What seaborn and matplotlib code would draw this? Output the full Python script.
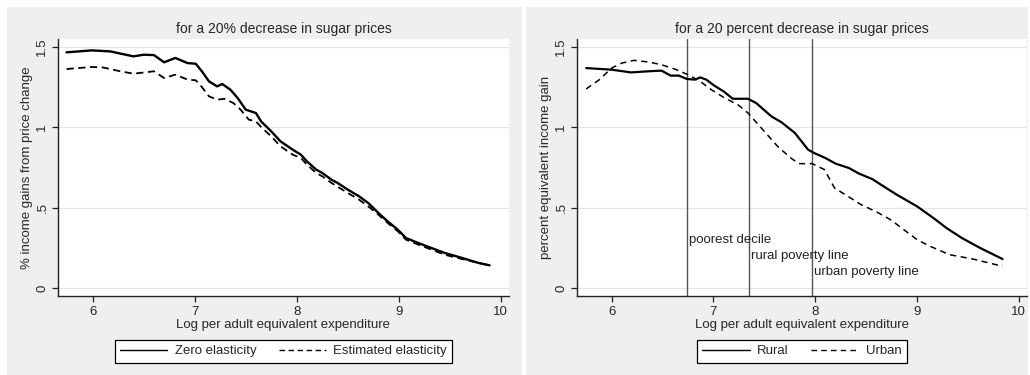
import numpy as np
import pandas as pd
import matplotlib
matplotlib.use("Agg")
import matplotlib.pyplot as plt
from matplotlib.patches import Rectangle
import seaborn as sns

sns.set_style("white")
plt.rcParams['font.family'] = ['Liberation Sans', 'DejaVu Sans']

# ---- Left panel data ----
zero_x = [5.744, 5.99, 6.17, 6.40, 6.50, 6.60, 6.70, 6.81, 6.93, 7.01, 7.07, 7.14, 7.22, 7.27,
          7.35, 7.42, 7.50, 7.60, 7.65, 7.75, 7.84, 7.96, 8.04, 8.10, 8.19, 8.25, 8.34, 8.40,
          8.50, 8.61, 8.70, 8.80, 8.89, 8.99, 9.07, 9.19, 9.32, 9.45, 9.62, 9.78, 9.89]
zero_y = [1.467, 1.479, 1.473, 1.442, 1.452, 1.450, 1.405, 1.432, 1.400, 1.396, 1.349, 1.286,
          1.255, 1.270, 1.234, 1.183, 1.110, 1.089, 1.037, 0.975, 0.913, 0.861, 0.830, 0.788,
          0.737, 0.716, 0.674, 0.654, 0.612, 0.571, 0.529, 0.467, 0.415, 0.363, 0.311, 0.280,
          0.249, 0.218, 0.187, 0.156, 0.141]
est_x = [5.744, 5.99, 6.10, 6.27, 6.40, 6.60, 6.70, 6.81, 6.93, 7.01, 7.07, 7.14, 7.22, 7.29,
         7.38, 7.45, 7.53, 7.60, 7.66, 7.75, 7.84, 7.96, 8.04, 8.10, 8.19, 8.25, 8.34, 8.50,
         8.61, 8.70, 8.80, 8.89, 8.99, 9.07, 9.19, 9.32, 9.45, 9.62, 9.78, 9.89]
est_y = [1.363, 1.376, 1.373, 1.349, 1.334, 1.349, 1.307, 1.328, 1.297, 1.293, 1.251, 1.193,
         1.172, 1.178, 1.151, 1.110, 1.048, 1.037, 0.996, 0.944, 0.882, 0.830, 0.809, 0.768,
         0.716, 0.695, 0.654, 0.591, 0.550, 0.508, 0.456, 0.405, 0.353, 0.301, 0.270, 0.239,
         0.207, 0.180, 0.156, 0.141]

# ---- Right panel data ----
rural_x = [5.75, 6.00, 6.19, 6.36, 6.49, 6.58, 6.66, 6.74, 6.82, 6.87, 6.93, 7.01, 7.10, 7.19,
           7.34, 7.42, 7.57, 7.67, 7.80, 7.93, 7.99, 8.10, 8.20, 8.33, 8.43, 8.56, 8.67, 8.80,
           9.00, 9.16, 9.29, 9.44, 9.62, 9.84]
rural_y = [1.369, 1.359, 1.342, 1.349, 1.353, 1.322, 1.322, 1.301, 1.297, 1.311, 1.297, 1.259,
           1.224, 1.178, 1.178, 1.151, 1.068, 1.031, 0.965, 0.861, 0.840, 0.809, 0.774, 0.747,
           0.712, 0.678, 0.633, 0.581, 0.508, 0.436, 0.373, 0.311, 0.249, 0.180]
urban_x = [5.75, 5.88, 6.00, 6.10, 6.22, 6.36, 6.49, 6.62, 6.75, 6.87, 6.98, 7.11, 7.24, 7.34,
           7.47, 7.63, 7.76, 7.84, 7.97, 8.09, 8.19, 8.32, 8.45, 8.61, 8.74, 8.87, 9.00, 9.13,
           9.32, 9.55, 9.84]
urban_y = [1.239, 1.297, 1.369, 1.400, 1.417, 1.407, 1.390, 1.363, 1.328, 1.286, 1.234, 1.183,
           1.141, 1.089, 0.996, 0.882, 0.809, 0.774, 0.774, 0.737, 0.622, 0.571, 0.519, 0.471,
           0.425, 0.363, 0.301, 0.259, 0.207, 0.180, 0.135]

vlines_x = [6.74, 7.35, 7.97]
vlines_labels = ["poorest decile", "rural poverty line", "urban poverty line"]
vlines_text_y = [0.30, 0.20, 0.10]

yticks = [0, 0.5, 1, 1.5]
ytick_labels = ["0", ".5", "1", "1.5"]
xticks = [6, 7, 8, 9, 10]

W, H = 1030, 375
fig = plt.figure(figsize=(W / 100, H / 100), dpi=100)
fig.patch.set_facecolor("white")
BG = "#efefef"
fig.patches.append(Rectangle((7 / W, 0), (522 - 7) / W, (375 - 7) / H,
                             transform=fig.transFigure, facecolor=BG, edgecolor="none", zorder=-5))
fig.patches.append(Rectangle((526 / W, 0), (1028 - 526) / W, (375 - 7) / H,
                             transform=fig.transFigure, facecolor=BG, edgecolor="none", zorder=-5))

FS = 9.5
bottom = 1 - 296 / H
height = (296 - 39) / H
axL = fig.add_axes([58 / W, bottom, (509 - 58) / W, height])
axR = fig.add_axes([577 / W, bottom, (1027 - 577) / W, height])

dfL1 = pd.DataFrame({"x": zero_x, "y": zero_y})
dfL2 = pd.DataFrame({"x": est_x, "y": est_y})
dfR1 = pd.DataFrame({"x": rural_x, "y": rural_y})
dfR2 = pd.DataFrame({"x": urban_x, "y": urban_y})

sns.lineplot(data=dfL1, x="x", y="y", ax=axL, color="black", lw=1.7, label="Zero elasticity")
sns.lineplot(data=dfL2, x="x", y="y", ax=axL, color="black", lw=1.3,
             label="Estimated elasticity").lines[-1].set_dashes((4, 2.5))
sns.lineplot(data=dfR1, x="x", y="y", ax=axR, color="black", lw=1.6, label="Rural")
sns.lineplot(data=dfR2, x="x", y="y", ax=axR, color="black", lw=1.1,
             label="Urban").lines[-1].set_dashes((4, 3))

for xv, lab, ty in zip(vlines_x, vlines_labels, vlines_text_y):
    axR.axvline(xv, color="#555555", lw=1.0, zorder=1)
    axR.text(xv + 0.02, ty, lab, fontsize=FS, color="#222222", ha="left", va="center")

titles = ["for a 20% decrease in sugar prices", "for a 20 percent decrease in sugar prices"]
ylabels = ["% income gains from price change", "percent equivalent income gain"]
for ax, t, yl in zip([axL, axR], titles, ylabels):
    ax.set_facecolor("white")
    ax.set_xlim(5.66, 10.08)
    ax.set_ylim(-0.05, 1.55)
    ax.set_yticks(yticks)
    ax.set_yticklabels(ytick_labels, rotation=90, va="center")
    ax.set_xticks(xticks)
    ax.grid(axis="y", color="#e6e6e6", lw=1.0)
    ax.grid(axis="x", visible=False)
    ax.set_axisbelow(True)
    for s in ["top", "right"]:
        ax.spines[s].set_visible(False)
    for s in ["left", "bottom"]:
        ax.spines[s].set_color("#222222")
        ax.spines[s].set_linewidth(1.0)
    ax.tick_params(axis="both", direction="out", length=4, width=0.9, color="#222222",
                   labelsize=FS, pad=3, left=True, bottom=True)
    ax.set_title(t, fontsize=FS + 0.5, pad=4)
    ax.set_xlabel("Log per adult equivalent expenditure", fontsize=FS, labelpad=1)
    ax.set_ylabel(yl, fontsize=FS, labelpad=2)
    leg = ax.legend(loc="upper center", bbox_to_anchor=(0.5, -0.145), ncol=2, fontsize=FS,
                    frameon=True, fancybox=False, edgecolor="black", framealpha=1,
                    handlelength=3.6, columnspacing=1.7, borderpad=0.4, handletextpad=0.55)
    leg.get_frame().set_linewidth(0.9)
    for line in leg.get_lines():
        line.set_linewidth(1.0)

fig.savefig("out.png", dpi=100)
